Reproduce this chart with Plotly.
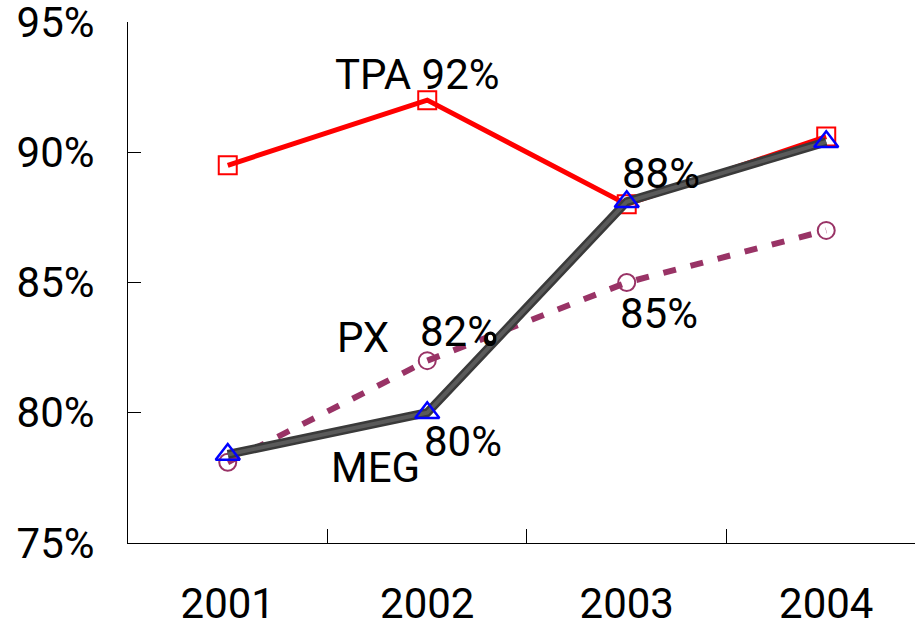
import plotly.graph_objects as go

years = ["2001", "2002", "2003", "2004"]
tpa = [89.5, 92.0, 88.0, 90.6]
meg = [78.4, 80.0, 88.1, 90.4]
px = [78.1, 82.0, 85.0, 87.0]
y_ticks = [75, 80, 85, 90, 95]
y_tick_labels = ["75%", "80%", "85%", "90%", "95%"]

FONT = "Roboto, Liberation Sans, sans-serif"
FS = 42

fig = go.Figure()
fig.add_trace(go.Scatter(x=years, y=tpa, mode="lines+markers", name="TPA",
                         line=dict(color="#ff0000", width=5),
                         marker=dict(symbol="square-open", size=18, color="#ff0000",
                                     line=dict(width=2))))
fig.add_trace(go.Scatter(x=years, y=px, mode="lines+markers", name="PX",
                         line=dict(color="#993366", width=6, dash="13px,15px"),
                         marker=dict(symbol="circle-open", size=17, color="#993366",
                                     line=dict(width=2))))
fig.add_trace(go.Scatter(x=years, y=meg, mode="lines", name="MEG",
                         line=dict(color="#3a3a3a", width=9), hoverinfo="skip"))
fig.add_trace(go.Scatter(x=years, y=meg, mode="lines+markers", name="MEG",
                         line=dict(color="#5a5a5a", width=4),
                         marker=dict(symbol="triangle-up-open", size=21, color="#0000ff",
                                     line=dict(width=2.5))))

ann = [
    ("TPA 92%", 0.95, 93.0),
    ("88%", 2.17, 89.2),
    ("82%", 1.16, 83.1),
    ("85%", 2.16, 83.8),
    ("PX", 0.68, 82.9),
    ("80%", 1.18, 78.9),
    ("MEG", 0.74, 77.9),
]
for text, x, y in ann:
    fig.add_annotation(x=x, y=y, xref="x", yref="y", text=text, showarrow=False,
                       font=dict(family=FONT, size=FS, color="black"))

fig.add_shape(type="circle", xref="x", yref="y", x0=1.297, x1=1.338, y0=82.70, y1=83.06,
              fillcolor="white", line=dict(color="black", width=3))

fig.update_layout(
    width=915, height=628,
    margin=dict(l=128, r=0, t=22, b=85),
    paper_bgcolor="white", plot_bgcolor="white",
    showlegend=False,
    font=dict(family=FONT, size=FS, color="black"),
    xaxis=dict(type="category", range=[-0.5, 3.445], showgrid=False, automargin=False,
               showline=True, linecolor="black", linewidth=1,
               ticks="inside", ticklen=14, tickcolor="black", tickson="boundaries",
               ticklabelstandoff=24, ticklabeloverflow="allow", zeroline=False),
    yaxis=dict(range=[75, 95], showgrid=False, showline=True, linecolor="black",
               linewidth=1, tickvals=y_ticks, ticktext=y_tick_labels, automargin=False,
               ticks="inside", ticklen=13, tickcolor="black",
               ticklabelstandoff=24, ticklabeloverflow="allow", zeroline=False),
)

fig.write_html("out.html", config={"displayModeBar": False},
               post_script="document.body.style.margin='0';document.body.style.overflow='hidden';")
